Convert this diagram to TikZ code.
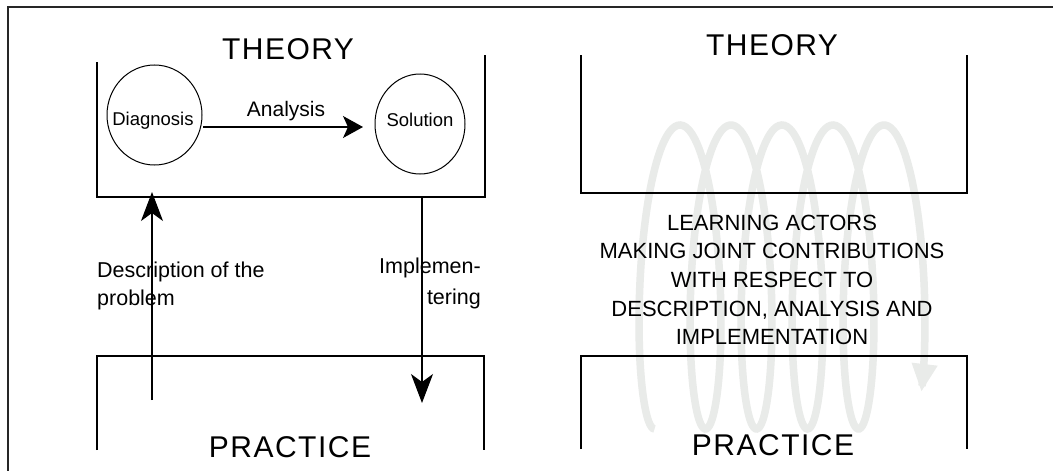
\documentclass[tikz,border=0pt]{standalone}
\usepackage{fontspec}
\setmainfont{Liberation Sans}
\usetikzlibrary{arrows.meta,shapes.geometric}
\definecolor{spiralc}{RGB}{233,235,233}
\begin{document}
\begin{tikzpicture}[x=1pt,y=-1pt,
  frameline/.style={line width=1.6pt, black!85},
  boxline/.style={line width=2pt},
  circ/.style={draw, ellipse, line width=1pt, inner sep=0pt},
  title/.style={font=\fontsize{30}{36}\selectfont\addfontfeature{LetterSpace=5}, inner sep=0pt, anchor=base},
  lbl/.style={font=\fontsize{18.5}{22}\selectfont, inner sep=0pt, anchor=base},
  side/.style={font=\fontsize{21.5}{28}\selectfont, inner sep=0pt},
  centre/.style={font=\fontsize{22}{28.7}\selectfont, inner sep=0pt, align=center, anchor=north},
  arr/.style={line width=1.2pt, -{Stealth[length=20pt,width=22pt,inset=5pt]}},
  varr/.style={line width=1.2pt, -{Stealth[length=29pt,width=22pt,inset=8pt]}},
  spiral/.style={line width=7.5pt, spiralc, -{Triangle[length=28pt,width=24pt]}}
]
\useasboundingbox (0,0) rectangle (1053,471);
\fill[white] (0,0) rectangle (1053,471);
% spiral (background)
\draw[spiral] plot[domain=3.1416:33.85, samples=400, smooth]
  ({629+8.117*\x+27*sin(\x r)}, {277-152*cos(\x r)});
% outer frame
\draw[frameline] (8,471) -- (8,7) -- (1053,7);
% left panel boxes
\draw[boxline] (97,62) -- (97,197) -- (485,197) -- (485,55);
\draw[boxline] (97,450) -- (97,356) -- (484,356) -- (484,450);
% right panel boxes
\draw[boxline] (581,55) -- (581,193) -- (967,193) -- (967,55);
\draw[boxline] (581,449) -- (581,356) -- (967,356) -- (967,449);
% titles
\node[title] (th1) at (288,59) {THEORY};
\node[title] (pr1) at (290,457) {PRACTICE};
\node[title] (th2) at (772,55) {THEORY};
\node[title] (pr2) at (773,455) {PRACTICE};
% circles
\node[circ, minimum width=95pt, minimum height=100pt] (diag) at (154.5,115) {};
\node[circ, minimum width=90pt, minimum height=100pt] (sol) at (420,124) {};
\node[lbl] (diagt) at (153,125) {Diagnosis};
\node[lbl] (solt) at (420,126) {Solution};
\node[lbl, font=\fontsize{21}{25}\selectfont] (ana) at (286,116.5) {Analysis};
% arrows
\coordinate (a1) at (203,127);
\coordinate (a2) at (363,127);
\draw[arr] (a1) -- (a2);
\coordinate (u1) at (152,400);
\coordinate (u2) at (152,192);
\draw[varr] (u1) -- (u2);
\coordinate (d1) at (422,197);
\coordinate (d2) at (422,403);
\draw[varr] (d1) -- (d2);
% side labels
\node[side, anchor=base west] (desc1) at (97,277) {Description of the};
\node[side, anchor=base west] (desc2) at (97,305) {problem};
\node[side, anchor=base east] (imp1) at (481,273) {Implemen-};
\node[side, anchor=base east] (imp2) at (481,304) {tering};
% central text
\node[centre] (learn) at (772,214.5) {LEARNING ACTORS\\MAKING JOINT CONTRIBUTIONS\\WITH RESPECT TO\\DESCRIPTION, ANALYSIS AND\\IMPLEMENTATION};
\end{tikzpicture}
\end{document}
